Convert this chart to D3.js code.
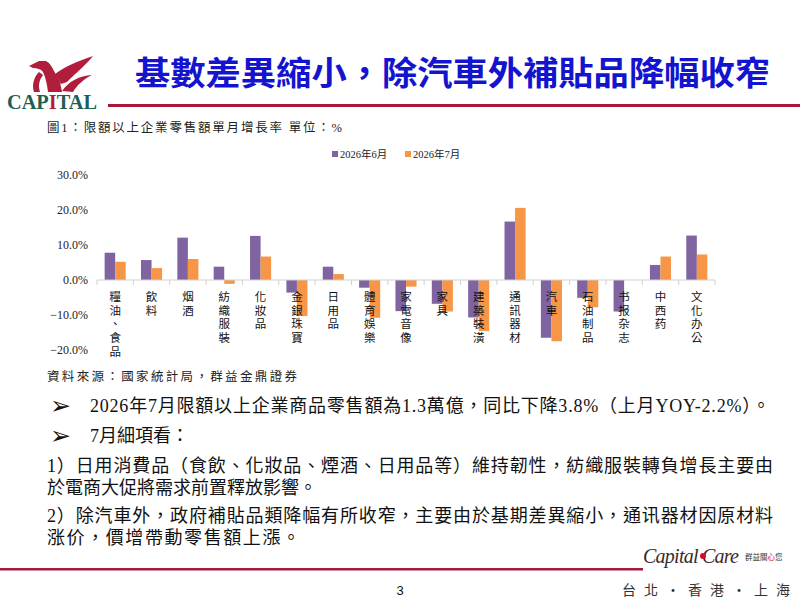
<!DOCTYPE html>
<html>
<head>
<meta charset="utf-8">
<script src="https://cdn.jsdelivr.net/npm/d3@7"></script>
<style>
body { margin: 0; background: #fff; }
svg { display: block; }
</style>
</head>
<body>
<div class="slide"></div>
<script>
// chart data
const categories = ["糧油、食品","飲料","烟酒","紡織服裝","化妝品","金銀珠寶","日用品","體育娛樂","家電音像","家具","建築裝潢","通訊器材","汽車","石油制品","书报杂志","中西药","文化办公"];
const seriesNames = ["2026年6月","2026年7月"];
const jun = [7.8,5.7,12.1,3.8,12.6,-3.6,3.8,-2.2,-8.9,-6.8,-10.7,16.7,-16.5,-5.1,-9.0,4.3,12.7];
const jul = [5.2,3.4,6.0,-1.1,6.7,-10.3,1.7,-10.8,-1.9,-9.0,-14.6,20.6,-17.5,-7.8,0,6.7,7.3];
const yTicks = [-20,-10,0,10,20,30];

const colors = ["#8064A2","#F79646"];
const serif = "'Liberation Serif','Noto Sans CJK TC',serif";
const cjk = "'Noto Sans CJK TC','Noto Sans CJK SC',sans-serif";

const width = 800, height = 600;
const svg = d3.select('.slide').append('svg')
	.attr('width', width)
	.attr('height', height);

// ---- header / logo ----
const red = '#B01E3C';
const logo = svg.append('g').attr('fill', red);
logo.append('path') // head + body
	.attr('d', 'M29,66 L39,61 L46,61 C50,63 52,67 54,71 L60,82 L62,92 L48,92 C47,85 46,78 43,72 C41,69 37,68 33,68 Z');
logo.append('path') // upper wing
	.attr('d', 'M55,74 C64,67 78,61 93,56 C87,64 77,72 67,82 L61,84 Z');
logo.append('path') // lower wing
	.attr('d', 'M62,91 C69,81 79,76 92,75 C84,79 77,85 73,92 Z');
logo.append('path') // tail piece
	.attr('d', 'M39,72 C33,78 32,86 34,92 L40,92 C38,86 39,80 43,75 Z');
logo.append('text')
	.attr('x', 7).attr('y', 109)
	.attr('font-family', "'Liberation Serif',serif")
	.attr('font-weight', 'bold')
	.attr('font-size', 20)
	.attr('textLength', 90)
	.attr('lengthAdjust', 'spacingAndGlyphs')
	.attr('fill', '#1F5E55')
	.html('CAP<tspan fill="#B01E3C">I</tspan>TAL');

svg.append('text')
	.attr('x', 135).attr('y', 85)
	.attr('font-family', cjk)
	.attr('font-weight', 'bold')
	.attr('font-size', 33)
	.attr('textLength', 635)
	.attr('lengthAdjust', 'spacingAndGlyphs')
	.attr('fill', '#1414CF')
	.text('基數差異縮小，除汽車外補貼品降幅收窄');

svg.append('rect')
	.attr('x', 108).attr('y', 104)
	.attr('width', 692).attr('height', 3)
	.attr('fill', '#A8173C');

svg.append('text')
	.attr('x', 47).attr('y', 132)
	.attr('font-family', serif)
	.attr('font-size', 12.5)
	.attr('textLength', 295)
	.attr('fill', '#222')
	.text('圖1：限額以上企業零售額單月增長率 單位：%');

// ---- chart ----
const x0 = d3.scaleBand()
	.domain(categories)
	.range([97, 715])
	.paddingInner(0.42)
	.paddingOuter(0.21);
const x1 = d3.scaleBand()
	.domain([0,1])
	.range([0, x0.bandwidth()]);
const y = d3.scaleLinear()
	.domain([-20, 30])
	.range([350, 175]);

const yAxis = svg.append('g')
	.attr('transform', 'translate(88,0)')
	.call(d3.axisLeft(y).tickValues(yTicks).tickSize(0).tickFormat(d => d3.format('.1f')(d) + '%'));
yAxis.select('.domain').remove();
yAxis.selectAll('text')
	.style('font-family', serif)
	.style('font-size', '12px')
	.attr('fill', '#222')
	.attr('dx', 3);

const rows = categories.map((c, i) => ({cat: c, vals: [jun[i], jul[i]]}));

const groups = svg.selectAll('g.cat')
	.data(rows)
	.enter()
	.append('g')
	.attr('class', 'cat')
	.attr('transform', d => `translate(${x0(d.cat)},0)`);

groups.selectAll('rect')
	.data(d => d.vals.map((v, k) => ({v: v, k: k})))
	.enter()
	.append('rect')
	.attr('x', d => x1(d.k))
	.attr('y', d => y(Math.max(0, d.v)))
	.attr('width', x1.bandwidth())
	.attr('height', d => Math.abs(y(d.v) - y(0)))
	.attr('fill', d => colors[d.k]);

// zero axis with ticks at band edges
const step = x0.step();
svg.append('line')
	.attr('x1', 97).attr('x2', 715)
	.attr('y1', y(0)).attr('y2', y(0))
	.attr('stroke', '#D0D0D0');
svg.selectAll('line.tk')
	.data(d3.range(categories.length + 1))
	.enter()
	.append('line')
	.attr('class', 'tk')
	.attr('x1', i => 97 + i * step).attr('x2', i => 97 + i * step)
	.attr('y1', y(0)).attr('y2', y(0) + 5)
	.attr('stroke', '#D0D0D0');

// vertical category labels, one character per line
svg.selectAll('text.cl')
	.data(categories)
	.enter()
	.append('text')
	.attr('class', 'cl')
	.attr('font-family', serif)
	.attr('font-size', 11.5)
	.attr('fill', '#111')
	.attr('text-anchor', 'middle')
	.each(function(c) {
		const cx = x0(c) + x0.bandwidth() / 2;
		Array.from(c).forEach((ch, j) => {
			d3.select(this).append('tspan')
				.attr('x', cx)
				.attr('y', 301 + j * 13.7)
				.text(ch);
		});
	});

// legend
const legend = svg.selectAll('g.lg')
	.data(seriesNames)
	.enter()
	.append('g')
	.attr('class', 'lg')
	.attr('transform', (d, i) => `translate(${[332, 405][i]},150)`);
legend.append('rect')
	.attr('width', 6).attr('height', 6)
	.attr('y', 1)
	.attr('fill', (d, i) => colors[i]);
legend.append('text')
	.attr('x', 8).attr('y', 8)
	.attr('font-family', serif)
	.attr('font-size', 10.5)
	.attr('fill', '#222')
	.text(d => d);

// ---- notes ----
svg.append('text')
	.attr('x', 47).attr('y', 381)
	.attr('font-family', serif)
	.attr('font-size', 12.5)
	.attr('textLength', 250)
	.attr('fill', '#222')
	.text('資料來源：國家統計局，群益金鼎證券');

const bullets = [
	{y: 412, text: '2026年7月限額以上企業商品零售額為1.3萬億，同比下降3.8%（上月YOY-2.2%）。', len: 680},
	{y: 442, text: '7月細項看：', len: null}
];
bullets.forEach(b => {
	svg.append('text')
		.attr('x', 50).attr('y', b.y + 2)
		.attr('font-family', "'DejaVu Sans',sans-serif")
		.attr('font-size', 25)
		.attr('fill', '#111')
		.text('➢');
	const t = svg.append('text')
		.attr('x', 90).attr('y', b.y)
		.attr('font-family', serif)
		.attr('font-size', 18)
		.attr('fill', '#111')
		.text(b.text);
	if (b.len) t.attr('textLength', b.len);
});

const paras = [
	{y: 472, text: '1）日用消費品（食飲、化妝品、煙酒、日用品等）維持韌性，紡織服裝轉負增長主要由', len: 726},
	{y: 494, text: '於電商大促將需求前置釋放影響。', len: 270},
	{y: 522, text: '2）除汽車外，政府補貼品類降幅有所收窄，主要由於基期差異縮小，通讯器材因原材料', len: 726},
	{y: 544, text: '涨价，價增帶動零售額上漲。', len: 253}
];
paras.forEach(p => {
	svg.append('text')
		.attr('x', 47).attr('y', p.y)
		.attr('font-family', serif)
		.attr('font-size', 18)
		.attr('textLength', p.len)
		.attr('fill', '#111')
		.text(p.text);
});

// ---- footer ----
svg.append('rect')
	.attr('x', 0).attr('y', 568)
	.attr('width', 643).attr('height', 2.5)
	.attr('fill', '#A8173C');
svg.append('text')
	.attr('x', 643).attr('y', 563)
	.attr('font-family', "'Liberation Serif',serif")
	.attr('font-style', 'italic')
	.attr('font-size', 20)
	.attr('textLength', 96)
	.attr('fill', '#3A2A2A')
	.text('Capital Care');
svg.append('circle')
	.attr('cx', 703).attr('cy', 556).attr('r', 3)
	.attr('fill', '#D0102A');
svg.append('text')
	.attr('x', 745).attr('y', 560)
	.attr('font-family', cjk)
	.attr('font-size', 7.5)
	.attr('fill', '#333')
	.html('群益關<tspan fill="#D0102A">心</tspan>您');
svg.append('text')
	.attr('x', 400).attr('y', 595)
	.attr('text-anchor', 'middle')
	.attr('font-family', "'Liberation Sans',sans-serif")
	.attr('font-size', 13)
	.attr('fill', '#111')
	.text('3');
svg.append('text')
	.attr('x', 622).attr('y', 595)
	.attr('font-family', cjk)
	.attr('font-size', 14)
	.attr('textLength', 168)
	.attr('fill', '#333')
	.text('台北・香港・上海');
</script>
</body>
</html>
